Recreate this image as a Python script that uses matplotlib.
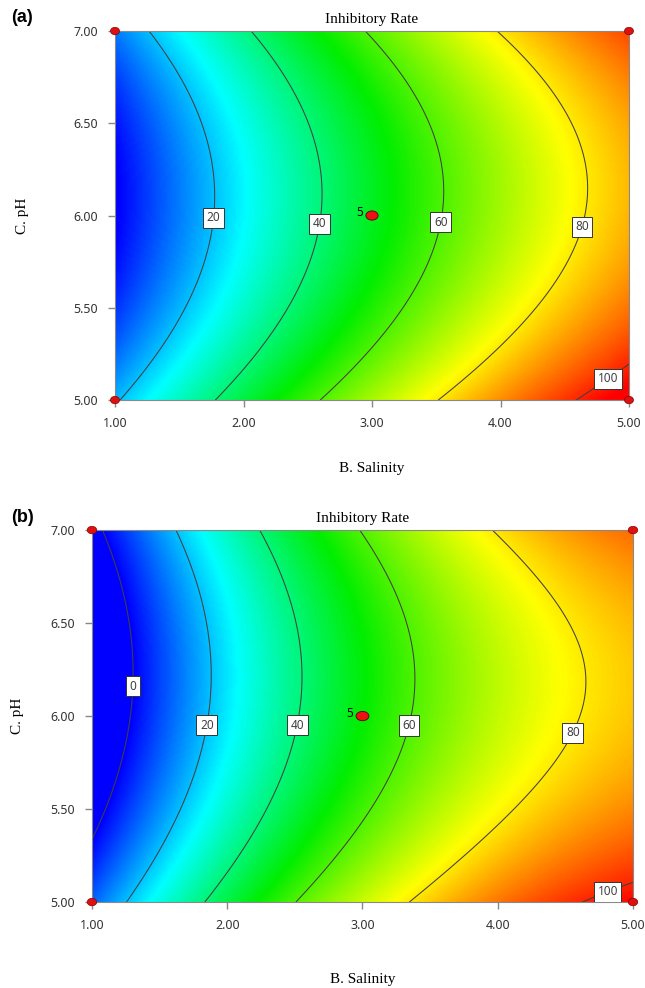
import numpy as np
import matplotlib.pyplot as plt
from matplotlib.colors import LinearSegmentedColormap
from matplotlib.patches import Ellipse

# factor ranges and ticks
salinity_range = [1.0, 5.0]
ph_range = [5.0, 7.0]
x_ticks = [1.0, 2.0, 3.0, 4.0, 5.0]
y_ticks = [5.0, 5.5, 6.0, 6.5, 7.0]

# quadratic model in coded units: const, B, C, BC, B^2, C^2
coef_a = [48.8, 42.9, -4.0, -1.0, -6.3, 16.3]
coef_b = [52.0, 47.3, -5.95, 0.75, -15.5, 14.45]

levels_a = [20, 40, 60, 80, 100]
levels_b = [0, 20, 40, 60, 80, 100]

# where the contour labels sit (salinity, pH)
label_pos_a = [(1.73, 5.99), (2.56, 5.96), (3.49, 5.97), (4.58, 5.95), (4.80, 5.15)]
label_pos_b = [(1.33, 6.16), (1.86, 5.95), (2.53, 5.95), (3.34, 5.95), (4.53, 5.92), (4.80, 5.08)]

# design points
corner_b = [1.0, 1.0, 5.0, 5.0]
corner_c = [5.0, 7.0, 5.0, 7.0]
center_b = 3.0
center_c = 6.0
center_reps = 5

cmap = LinearSegmentedColormap.from_list(
    'de', [(0.0, '#0000ff'), (0.25, '#00ffff'), (0.5, '#00ee00'),
           (0.75, '#ffff00'), (1.0, '#ff0000')])


def surface(coef, B, C):
    x = (B - 3.0) / 2.0
    y = (C - 6.0) / 1.0
    return (coef[0] + coef[1] * x + coef[2] * y + coef[3] * x * y
            + coef[4] * x ** 2 + coef[5] * y ** 2)


def draw_panel(ax, coef, levels, label_pos, ypad, xpad):
    b = np.linspace(salinity_range[0], salinity_range[1], 300)
    c = np.linspace(ph_range[0], ph_range[1], 300)
    B, C = np.meshgrid(b, c)
    Z = surface(coef, B, C)

    ax.imshow(Z, extent=[b[0], b[-1], c[0], c[-1]], origin='lower',
              aspect='auto', cmap=cmap, vmin=0, vmax=104,
              interpolation='bilinear')
    cs = ax.contour(B, C, Z, levels=levels, colors='#404040', linewidths=0.75)
    labels = ax.clabel(cs, inline=False, fmt='%d', fontsize=8.5,
                       manual=label_pos)
    for t in labels:
        t.set_rotation(0)
        t.set_fontfamily('Noto Sans')
        t.set_bbox(dict(boxstyle='square,pad=0.3', fc='white',
                        ec='#333333', lw=0.7))

    # design points
    for xb, yc in zip(corner_b, corner_c):
        ax.add_patch(Ellipse((xb, yc), 0.07, 0.04, fc='#dd1111',
                             ec='#880000', lw=0.5, clip_on=False, zorder=5))
    ax.add_patch(Ellipse((center_b, center_c), 0.095, 0.05, fc='#ee1111',
                         ec='#550000', lw=0.6, zorder=5))
    ax.text(center_b - 0.07, center_c + 0.015, str(center_reps),
            fontsize=8.5, ha='right', va='center', family='Noto Sans')

    ax.set_xlim(salinity_range)
    ax.set_ylim(ph_range)
    ax.set_xticks(x_ticks)
    ax.set_yticks(y_ticks)
    ax.set_xticklabels(['%.2f' % v for v in x_ticks])
    ax.set_yticklabels(['%.2f' % v for v in y_ticks])
    ax.tick_params(direction='out', length=5, width=1, color='#888888',
                   labelsize=9, labelcolor='#333333', pad=7)
    for lab in ax.get_xticklabels() + ax.get_yticklabels():
        lab.set_family('Noto Sans')
    for sp in ax.spines.values():
        sp.set_color('#888888')
        sp.set_linewidth(0.8)

    ax.set_title('Inhibitory Rate', family='Liberation Serif', fontsize=11,
                 pad=6)
    ax.set_xlabel('B. Salinity', family='Liberation Serif', fontsize=11,
                  labelpad=xpad)
    ax.set_ylabel('C. pH', family='Liberation Serif', fontsize=11,
                  labelpad=ypad)


fig = plt.figure(figsize=(6.45, 9.88), dpi=100)
ax_a = fig.add_axes([0.1783, 0.5951, 0.7969, 0.3735])
ax_b = fig.add_axes([0.1426, 0.0870, 0.8388, 0.3765])

draw_panel(ax_a, coef_a, levels_a, label_pos_a, ypad=32, xpad=23)
draw_panel(ax_b, coef_b, levels_b, label_pos_b, ypad=19, xpad=30)

fig.text(22 / 645, 1 - 17 / 988, '(a)', family='Liberation Sans',
         fontweight='bold', fontsize=13, ha='center', va='center')
fig.text(22 / 645, 1 - 518 / 988, '(b)', family='Liberation Sans',
         fontweight='bold', fontsize=13, ha='center', va='center')

fig.savefig('out.png', dpi=100)
